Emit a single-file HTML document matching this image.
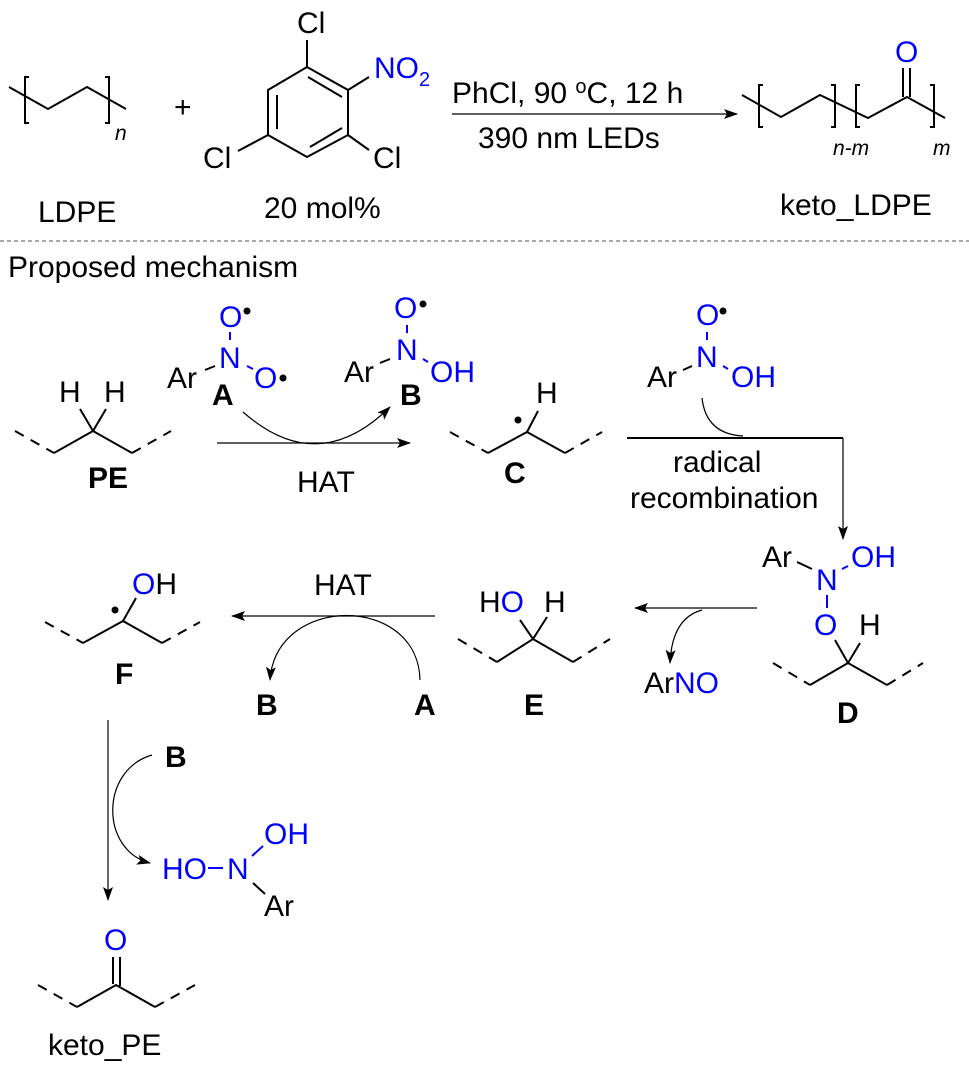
<!DOCTYPE html>
<html><head><meta charset="utf-8"><style>
html,body{margin:0;padding:0;background:#fff}
svg{display:block}
text{font-family:"Liberation Sans",Arial,sans-serif;font-size:30px;fill:#000}
.b{fill:#0000ff}
.bd{font-weight:bold}
.bond{stroke:#000;stroke-width:2;fill:none}
.bb{stroke:#0000ff;stroke-width:2;fill:none}
.dash{stroke:#000;stroke-width:2;fill:none;stroke-dasharray:10,8}
.ar{stroke:#000;stroke-width:1.2;fill:none}
</style></head><body>
<svg width="969" height="1074" viewBox="0 0 969 1074" xmlns="http://www.w3.org/2000/svg">
<defs>
<marker id="ah" markerWidth="14" markerHeight="10" refX="13" refY="5" orient="auto" markerUnits="userSpaceOnUse">
<path d="M0,0 L14,5 L0,10 L3,5 Z" fill="#000"/></marker>
</defs>

<!-- LDPE -->
<polyline class="bond" points="9,87 48,109 87,87 126,109"/>
<path class="bond" d="M29,77 H25 V123 H29 M105,77 H109 V123 H105"/>
<text x="115" y="140" style="font-size:21px;font-style:italic">n</text>
<text x="174" y="117">+</text>
<text x="38" y="222">LDPE</text>

<!-- benzene -->
<polygon class="bond" points="307,67 348,90 348,135 307,157 268,135 268,90"/>
<line class="bond" x1="308" y1="77" x2="342" y2="97"/>
<line class="bond" x1="310" y1="147" x2="342" y2="128"/>
<line class="bond" x1="277" y1="95" x2="277" y2="129"/>
<line class="bond" x1="307" y1="40" x2="307" y2="67"/>
<line class="bond" x1="348" y1="90" x2="369" y2="77"/>
<line class="bond" x1="348" y1="135" x2="369" y2="150"/>
<line class="bond" x1="268" y1="135" x2="238" y2="151"/>
<text x="297" y="33">Cl</text>
<text x="374" y="78" class="b">NO</text>
<text x="419" y="86" class="b" style="font-size:20px">2</text>
<text x="373" y="168">Cl</text>
<text x="203" y="168">Cl</text>
<text x="264" y="218">20 mol%</text>

<!-- top arrow -->
<line class="ar" x1="452" y1="114" x2="737" y2="114" marker-end="url(#ah)"/>
<text x="452" y="103">PhCl, 90 <tspan dy="-10" style="font-size:20px">o</tspan><tspan dy="10">C, 12 h</tspan></text>
<text x="478" y="148">390 nm LEDs</text>

<!-- keto LDPE -->
<polyline class="bond" points="742,95 781,117 820,95 868,118 907,97 945,118"/>
<line class="bond" x1="903" y1="68" x2="903" y2="97"/>
<line class="bond" x1="910" y1="68" x2="910" y2="97"/>
<text x="895" y="62" class="b">O</text>
<path class="bond" d="M763,85 H759 V127 H763 M831,85 H835 V127 H831 M860,85 H856 V127 H860 M930,85 H934 V127 H930"/>
<text x="833" y="155" style="font-size:21px;font-style:italic">n-m</text>
<text x="933" y="155" style="font-size:21px;font-style:italic">m</text>
<text x="780" y="215">keto_LDPE</text>

<line x1="0" y1="241" x2="969" y2="241" stroke="#555" stroke-width="1" stroke-dasharray="4,3"/>
<text x="8" y="277">Proposed mechanism</text>

<!-- PE -->
<line class="dash" x1="15" y1="431" x2="54" y2="453"/>
<polyline class="bond" points="54,453 93,431 132,453"/>
<line class="dash" x1="132" y1="453" x2="171" y2="431"/>
<line class="bond" x1="93" y1="431" x2="80" y2="409"/>
<line class="bond" x1="93" y1="431" x2="106" y2="409"/>
<text x="59" y="402">H</text><text x="104" y="402">H</text>
<text x="88" y="488" class="bd">PE</text>

<!-- A -->
<text x="167" y="388">Ar</text>
<line class="bond" x1="205" y1="370" x2="215" y2="366"/>
<text x="219" y="368" class="b">N</text>
<line class="bb" x1="230" y1="332" x2="230" y2="340"/>
<text x="219" y="327" class="b">O</text>
<circle cx="247" cy="311" r="3.5"/>
<line class="bb" x1="247" y1="366" x2="253" y2="369"/>
<text x="254" y="388" class="b">O</text>
<circle cx="283" cy="378" r="3.5"/>
<text x="212" y="405" class="bd">A</text>

<!-- B -->
<text x="344" y="382">Ar</text>
<line class="bond" x1="380" y1="363" x2="390" y2="359"/>
<text x="396" y="360" class="b">N</text>
<line class="bb" x1="407" y1="325" x2="407" y2="333"/>
<text x="394" y="318" class="b">O</text>
<circle cx="423" cy="304" r="3.5"/>
<line class="bb" x1="423" y1="359" x2="428" y2="362"/>
<text x="430" y="382" class="b">OH</text>
<text x="400" y="405" class="bd">B</text>

<path class="ar" d="M243,412 Q318,478 390,407" marker-end="url(#ah)"/>
<line class="ar" x1="217" y1="443" x2="410" y2="443" marker-end="url(#ah)"/>
<text x="297" y="492">HAT</text>

<!-- C -->
<line class="dash" x1="450" y1="432" x2="488" y2="453"/>
<polyline class="bond" points="488,453 527,432 565,453"/>
<line class="dash" x1="565" y1="453" x2="602" y2="432"/>
<line class="bond" x1="527" y1="432" x2="538" y2="411"/>
<text x="536" y="403">H</text>
<circle cx="518" cy="420" r="3.5"/>
<text x="504" y="483" class="bd">C</text>

<!-- B top right -->
<text x="647" y="387">Ar</text>
<line class="bond" x1="683" y1="370" x2="692" y2="366"/>
<text x="696" y="367" class="b">N</text>
<line class="bb" x1="707" y1="332" x2="707" y2="340"/>
<text x="696" y="325" class="b">O</text>
<circle cx="723" cy="311" r="3.5"/>
<line class="bb" x1="723" y1="366" x2="728" y2="369"/>
<text x="731" y="387" class="b">OH</text>

<path class="ar" d="M702,398 Q706,434 743,436"/>
<line x1="627" y1="438" x2="843" y2="438" stroke="#000" stroke-width="2"/>
<line class="ar" x1="843" y1="438" x2="843" y2="539" marker-end="url(#ah)"/>
<text x="673" y="472">radical</text>
<text x="630" y="508">recombination</text>

<!-- D -->
<text x="762" y="567">Ar</text>
<line class="bond" x1="797" y1="562" x2="812" y2="569"/>
<text x="816" y="590" class="b">N</text>
<line class="bb" x1="842" y1="569" x2="848" y2="566"/>
<text x="851" y="567" class="b">OH</text>
<line class="bb" x1="827" y1="595" x2="827" y2="608"/>
<text x="814" y="635" class="b">O</text>
<text x="859" y="635">H</text>
<line class="bond" x1="835" y1="640" x2="848" y2="663"/>
<line class="bond" x1="860" y1="643" x2="848" y2="663"/>
<line class="dash" x1="773" y1="663" x2="810" y2="685"/>
<polyline class="bond" points="810,685 848,663 887,685"/>
<line class="dash" x1="887" y1="685" x2="923" y2="663"/>
<text x="837" y="723" class="bd">D</text>

<!-- E -->
<text x="479" y="612">H<tspan class="b">O</tspan></text>
<text x="544" y="612">H</text>
<line class="bond" x1="520" y1="620" x2="533" y2="639"/>
<line class="bond" x1="547" y1="617" x2="533" y2="639"/>
<line class="dash" x1="458" y1="639" x2="497" y2="662"/>
<polyline class="bond" points="497,662 533,639 573,662"/>
<line class="dash" x1="573" y1="662" x2="610" y2="639"/>
<text x="524" y="715" class="bd">E</text>

<line class="ar" x1="757" y1="608" x2="635" y2="608" marker-end="url(#ah)"/>
<path class="ar" d="M702,610 Q672,618 670,663" marker-end="url(#ah)"/>
<text x="644" y="693">Ar<tspan class="b">NO</tspan></text>

<!-- F -->
<line class="dash" x1="45" y1="622" x2="83" y2="643"/>
<polyline class="bond" points="83,643 123,621 162,643"/>
<line class="dash" x1="162" y1="643" x2="200" y2="622"/>
<line class="bond" x1="123" y1="621" x2="136" y2="598"/>
<text x="132" y="594"><tspan class="b">O</tspan>H</text>
<circle cx="115" cy="610" r="3.5"/>
<text x="115" y="684" class="bd">F</text>

<line class="ar" x1="435" y1="616" x2="232" y2="616" marker-end="url(#ah)"/>
<text x="314" y="595">HAT</text>
<path class="ar" d="M420,680 C418,594 276,594 270,680" marker-end="url(#ah)"/>
<text x="256" y="715" class="bd">B</text>
<text x="414" y="715" class="bd">A</text>

<!-- bottom -->
<line class="ar" x1="108" y1="720" x2="108" y2="900" marker-end="url(#ah)"/>
<text x="165" y="767" class="bd">B</text>
<path class="ar" d="M152,755 C100,770 100,850 150,863" marker-end="url(#ah)"/>
<text x="162" y="879" class="b">HO</text>
<line class="bb" x1="208" y1="868" x2="223" y2="868"/>
<text x="227" y="879" class="b">N</text>
<line class="bb" x1="252" y1="856" x2="263" y2="846"/>
<text x="264" y="844" class="b">OH</text>
<line class="bond" x1="253" y1="883" x2="265" y2="894"/>
<text x="264" y="916">Ar</text>

<text x="104" y="950" class="b">O</text>
<line class="bond" x1="113" y1="957" x2="113" y2="984"/>
<line class="bond" x1="120" y1="957" x2="120" y2="986"/>
<line class="dash" x1="38" y1="985" x2="77" y2="1007"/>
<polyline class="bond" points="77,1007 116,985 155,1007"/>
<line class="dash" x1="155" y1="1007" x2="195" y2="985"/>
<text x="48" y="1055">keto_PE</text>
</svg>
</body></html>
